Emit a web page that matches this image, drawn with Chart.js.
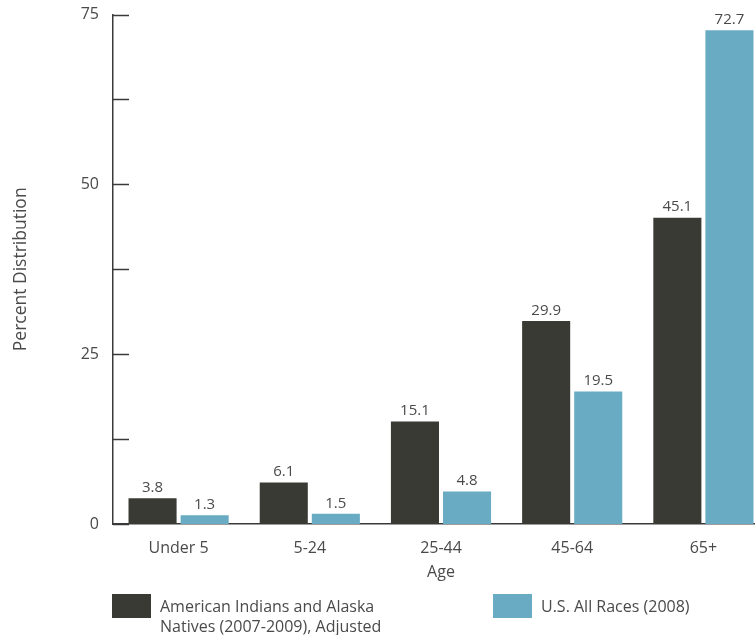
<!DOCTYPE html>
<html>
<head>
<meta charset="utf-8">
<script src="https://cdn.jsdelivr.net/npm/chart.js@4/dist/chart.umd.min.js"></script>
<style>
    html, body { margin: 0; padding: 0; background: #fff; overflow: hidden; }
    #wrap { position: relative; width: 755px; height: 635px; overflow: hidden; }
    #box { position: absolute; left: 0; top: -9px; width: 769px; height: 644px; }
    .leg { position: absolute; font-family: "Open Sans", sans-serif; font-size: 16px; color: #4a4a4a; line-height: 20px; }
    .sw { position: absolute; width: 39px; height: 24px; }
</style>
</head>
<body>
<div id="wrap">
    <div id="box"><canvas id="chart"></canvas></div>
    <div class="sw" style="left:112px; top:594px; background:#3a3a35;"></div>
    <div class="leg" style="left:160px; top:596px;">American Indians and Alaska<br>Natives (2007-2009), Adjusted</div>
    <div class="sw" style="left:493px; top:594px; background:#69abc3;"></div>
    <div class="leg" style="left:541px; top:596px;">U.S. All Races (2008)</div>
</div>
<script>
    // dados
    const categorias = ['Under 5', '5-24', '25-44', '45-64', '65+'];
    const nativos = [3.8, 6.1, 15.1, 29.9, 45.1];
    const todasRacas = [1.3, 1.5, 4.8, 19.5, 72.7];
    const serieNomes = ['American Indians and Alaska Natives (2007-2009), Adjusted', 'U.S. All Races (2008)'];

    const COR_ESCURA = '#3a3a35';
    const COR_AZUL = '#69abc3';
    const COR_TEXTO = '#4a4a4a';
    const COR_EIXO = '#3a3a3a';
    const FONTE = '"Open Sans", sans-serif';

    // marcas internas do eixo Y + rótulos dos valores
    const extras = {
        id: 'extras',
        afterDraw(chart) {
            const ctx = chart.ctx;
            const y = chart.scales.y;
            const area = chart.chartArea;
            ctx.save();
            ctx.strokeStyle = COR_EIXO;
            ctx.lineWidth = 1.5;
            y.ticks.forEach(t => {
                const py = Math.round(y.getPixelForValue(t.value)) + 0.5;
                ctx.beginPath();
                ctx.moveTo(area.left, py);
                ctx.lineTo(area.left + 16, py);
                ctx.stroke();
            });
            ctx.fillStyle = COR_TEXTO;
            ctx.font = '15px ' + FONTE;
            ctx.textAlign = 'center';
            ctx.textBaseline = 'bottom';
            chart.data.datasets.forEach((ds, i) => {
                chart.getDatasetMeta(i).data.forEach((bar, j) => {
                    ctx.fillText(ds.data[j].toFixed(1), bar.x, bar.y - 3);
                });
            });
            ctx.restore();
        }
    };

    new Chart(document.getElementById('chart'), {
        type: 'bar',
        data: {
            labels: categorias,
            datasets: [
                { label: serieNomes[0], data: nativos, backgroundColor: COR_ESCURA },
                { label: serieNomes[1], data: todasRacas, backgroundColor: COR_AZUL }
            ]
        },
        options: {
            responsive: true,
            maintainAspectRatio: false,
            animation: false,
            categoryPercentage: 0.794,
            barPercentage: 0.923,
            layout: { padding: { top: 5, right: 0, bottom: 53, left: 0 } },
            plugins: {
                legend: { display: false },
                tooltip: { enabled: false }
            },
            scales: {
                x: {
                    grid: { display: false, drawTicks: false },
                    border: { display: true, color: COR_EIXO, width: 1.5 },
                    ticks: { color: COR_TEXTO, font: { family: FONTE, size: 16 }, padding: 15 },
                    title: { display: true, text: 'Age', color: COR_TEXTO, font: { family: FONTE, size: 16 }, padding: 0 },
                    afterFit(s) { s.height = 58; }
                },
                y: {
                    min: 0,
                    max: 75,
                    grid: { display: false, drawTicks: false },
                    border: { display: true, color: COR_EIXO, width: 1.5 },
                    ticks: {
                        stepSize: 12.5,
                        color: COR_TEXTO,
                        font: { family: FONTE, size: 16 },
                        padding: 14,
                        callback: v => (v % 25 === 0 ? v : '')
                    },
                    title: { display: true, text: 'Percent Distribution', color: COR_TEXTO, font: { family: FONTE, size: 17.5 }, padding: { top: 11, bottom: 0 } },
                    afterFit(s) { s.width = 113; }
                }
            }
        },
        plugins: [extras]
    });
</script>
</body>
</html>
